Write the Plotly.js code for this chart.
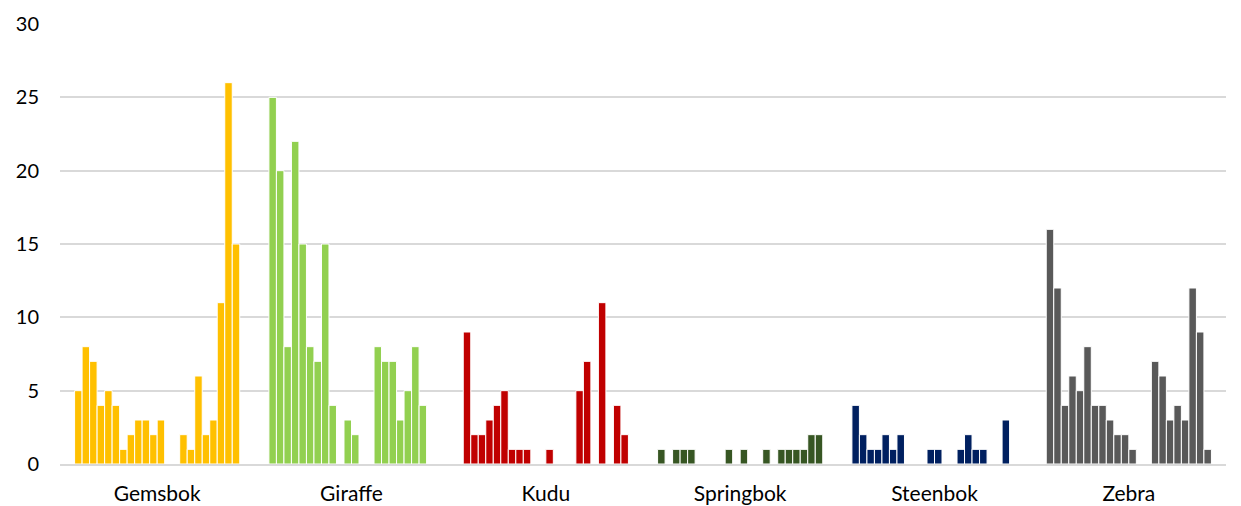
<!DOCTYPE html>
<html>
<head>
<meta charset="utf-8">
<script src="https://cdn.plot.ly/plotly-3.0.1.min.js"></script>
<style>html,body{margin:0;padding:0;background:#fff;}#chart{width:1241px;height:506px;}</style>
</head>
<body>
<div id="chart"></div>
<script>
const categories = ["Gemsbok", "Giraffe", "Kudu", "Springbok", "Steenbok", "Zebra"];
const gemsbok   = [5,8,7,4,5,4,1,2,3,3,2,3,0,0,2,1,6,2,3,11,26,15];
const giraffe   = [25,20,8,22,15,8,7,15,4,0,3,2,0,0,8,7,7,3,5,8,4,0];
const kudu      = [9,2,2,3,4,5,1,1,1,0,0,1,0,0,0,5,7,0,11,0,4,2];
const springbok = [1,0,1,1,1,0,0,0,0,1,0,1,0,0,1,0,1,1,1,1,2,2];
const steenbok  = [4,2,1,1,2,1,2,0,0,0,1,1,0,0,1,2,1,1,0,0,3,0];
const zebra     = [16,12,4,6,5,8,4,4,3,2,2,1,0,0,7,6,3,4,3,12,9,1];
const yTicks = [0,5,10,15,20,25,30];

const colors = ["#FFC000", "#92D050", "#C00000", "#375623", "#002060", "#595959"];
const groups = [gemsbok, giraffe, kudu, springbok, steenbok, zebra];
const nSeries = gemsbok.length;

const traces = [];
for (let i = 0; i < nSeries; i++) {
  traces.push({
    type: "bar",
    x: categories,
    y: groups.map(g => g[i]),
    marker: {color: colors, line: {color: "#ffffff", width: 1}},
    showlegend: false,
    hoverinfo: "skip"
  });
}

const layout = {
  width: 1241,
  height: 506,
  margin: {l: 60, r: 15, t: 24, b: 42},
  paper_bgcolor: "#ffffff",
  plot_bgcolor: "#ffffff",
  barmode: "group",
  bargap: 0.15,
  bargroupgap: 0,
  font: {family: "Lato, 'Open Sans', sans-serif", color: "#000000", size: 20},
  xaxis: {
    type: "category",
    showgrid: false,
    showline: true,
    linecolor: "#d9d9d9",
    linewidth: 2,
    ticks: "",
    tickfont: {size: 21, color: "#000000"},
    ticklabelstandoff: 10,
    automargin: false,
    fixedrange: true
  },
  yaxis: {
    range: [0, 30],
    tickvals: yTicks,
    ticktext: yTicks.map(String),
    showgrid: true,
    gridcolor: "#d9d9d9",
    gridwidth: 2,
    zeroline: false,
    showline: false,
    ticks: "",
    tickfont: {size: 20, color: "#000000"},
    ticklabelstandoff: 20,
    automargin: false,
    fixedrange: true
  }
};

Plotly.newPlot("chart", traces, layout, {staticPlot: true, displayModeBar: false});
</script>
</body>
</html>
